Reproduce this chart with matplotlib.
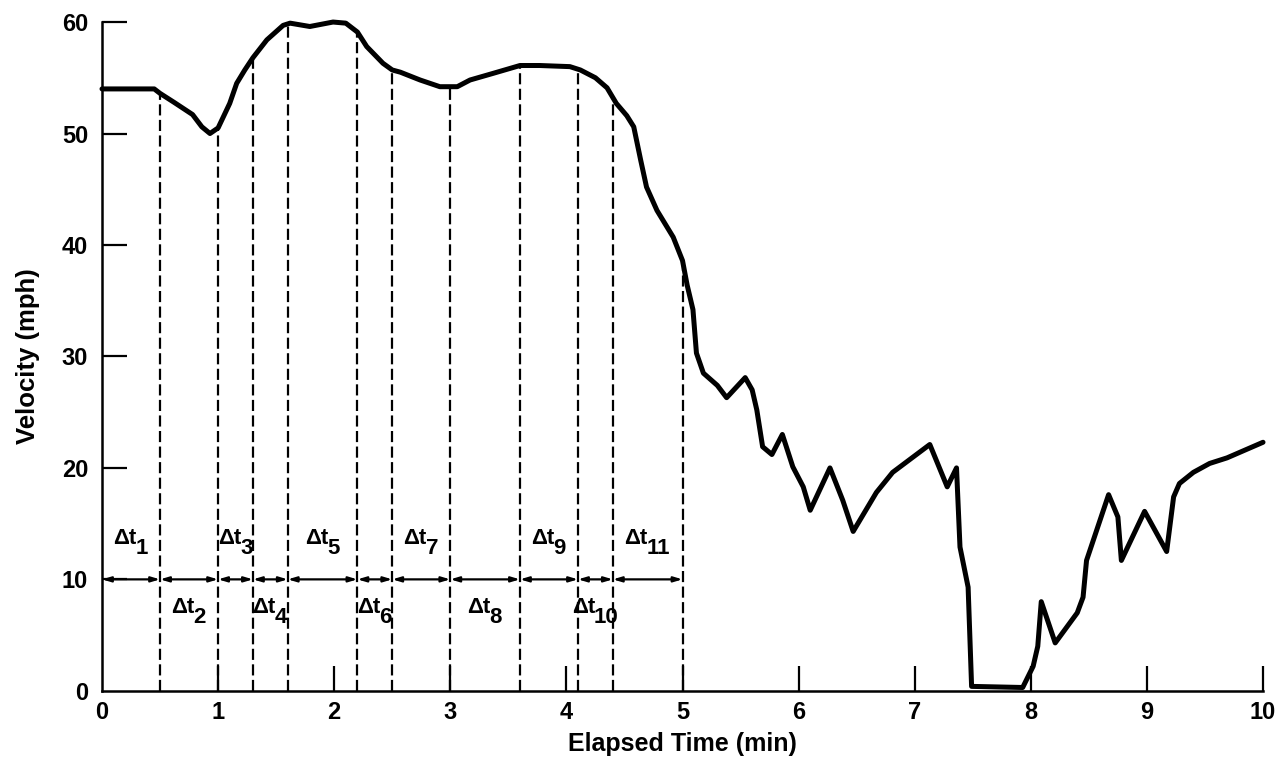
import matplotlib
matplotlib.use("Agg")
import matplotlib.pyplot as plt
import numpy as np

# velocity trace (min, mph)
time_min = [0.0, 0.45, 0.5, 0.62, 0.78, 0.86, 0.93, 1.0, 1.1, 1.16, 1.23, 1.3,
            1.42, 1.56, 1.62, 1.79, 1.99, 2.1, 2.2, 2.28, 2.42, 2.5, 2.57, 2.74,
            2.91, 3.06, 3.17, 3.37, 3.6, 3.77, 4.03, 4.12, 4.25, 4.35, 4.43,
            4.52, 4.58, 4.61, 4.64, 4.69, 4.78, 4.92, 5.0, 5.04, 5.09, 5.12,
            5.18, 5.3, 5.38, 5.46, 5.54, 5.6, 5.64, 5.69, 5.77, 5.86, 5.95,
            6.04, 6.1, 6.27, 6.38, 6.47, 6.67, 6.81, 7.13, 7.28, 7.36, 7.39,
            7.46, 7.49, 7.93, 8.02, 8.06, 8.09, 8.21, 8.4, 8.45, 8.48, 8.67,
            8.75, 8.78, 8.98, 9.17, 9.23, 9.28, 9.4, 9.54, 9.69, 10.0]
velocity = [54.0, 54.0, 53.6, 52.8, 51.7, 50.6, 50.0, 50.5, 52.7, 54.5, 55.7, 56.8,
            58.4, 59.7, 59.9, 59.6, 60.0, 59.9, 59.1, 57.8, 56.3, 55.7, 55.5, 54.8,
            54.2, 54.2, 54.8, 55.4, 56.1, 56.1, 56.0, 55.7, 55.0, 54.1, 52.7,
            51.6, 50.6, 49.1, 47.6, 45.2, 43.1, 40.7, 38.6, 36.4, 34.2, 30.3,
            28.5, 27.4, 26.3, 27.2, 28.1, 27.0, 25.2, 21.9, 21.2, 23.0, 20.1,
            18.3, 16.2, 20.0, 17.1, 14.3, 17.8, 19.6, 22.1, 18.3, 20.0, 12.9,
            9.3, 0.4, 0.3, 2.2, 4.0, 8.0, 4.3, 7.0, 8.4, 11.7, 17.6,
            15.6, 11.7, 16.1, 12.5, 17.4, 18.6, 19.6, 20.4, 20.9, 22.3]

# interval boundaries for the delta-t construction
bounds = [0.0, 0.5, 1.0, 1.3, 1.6, 2.2, 2.5, 3.0, 3.6, 4.1, 4.4, 5.0]
arrow_level = 10
label_hi = 13.6
label_lo = 7.4

plt.rcParams['font.family'] = ['Liberation Sans', 'DejaVu Sans']
plt.rcParams['font.weight'] = 'bold'

fig = plt.figure(figsize=(12.75, 7.6), dpi=100)
ax = fig.add_axes([0.080, 0.091, 0.9106, 0.880])

ax.plot(time_min, velocity, color='black', lw=3.6, clip_on=False,
        solid_joinstyle='round', solid_capstyle='round', zorder=3)

# dashed verticals up to the curve
tops = np.interp(bounds[1:], time_min, velocity)
for b, top in zip(bounds[1:], tops):
    ax.plot([b, b], [0, top], color='black', lw=1.6,
            linestyle=(0, (5, 2)), zorder=2)

# double arrows along the 10 mph line + labels
for i in range(len(bounds) - 1):
    ax.annotate('', xy=(bounds[i + 1], arrow_level), xytext=(bounds[i], arrow_level),
                arrowprops=dict(arrowstyle='<|-|>,head_length=0.5,head_width=0.15',
                                color='black', lw=1.6, shrinkA=0, shrinkB=0))
    mid = (bounds[i] + bounds[i + 1]) / 2
    yy = label_hi if i % 2 == 0 else label_lo
    sub = str(i + 1)
    dw = 12 * len(sub)
    w = 23 + dw
    ax.annotate('Δt', xy=(mid, yy), xytext=(-w / 2 + 23, 1), textcoords='offset pixels',
                ha='right', va='center', fontsize=16, fontweight='bold')
    ax.annotate(sub, xy=(mid, yy), xytext=(-w / 2 + 22, -9), textcoords='offset pixels',
                ha='left', va='center', fontsize=16, fontweight='bold')

ax.set_xlim(0, 10)
ax.set_ylim(0, 60)
ax.set_xticks(range(0, 11))
ax.set_yticks(range(0, 61, 10))
ax.tick_params(axis='both', direction='in', length=18, width=1.6, labelsize=17)
ax.tick_params(axis='x', pad=7)
ax.tick_params(axis='y', pad=10)
ax.xaxis.get_major_ticks()[0].tick1line.set_visible(False)
ax.yaxis.get_major_ticks()[0].tick1line.set_visible(False)
for s in ['top', 'right']:
    ax.spines[s].set_visible(False)
for s in ['left', 'bottom']:
    ax.spines[s].set_linewidth(1.8)

ax.set_xlabel('Elapsed Time (min)', fontsize=18, fontweight='bold', labelpad=6)
ax.set_ylabel('Velocity (mph)', fontsize=18.5, fontweight='bold', labelpad=16)

fig.savefig('out.png', dpi=100)
